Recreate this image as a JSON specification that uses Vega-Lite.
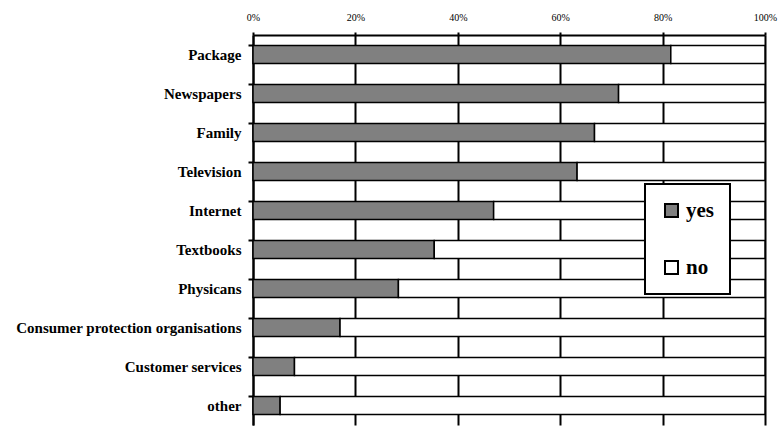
{
  "$schema": "https://vega.github.io/schema/vega-lite/v6.json",
  "width": 512,
  "height": 390,
  "autosize": "none",
  "padding": {"left": 253, "top": 35, "right": 15, "bottom": 1},
  "background": "white",
  "config": {
    "view": {"stroke": null},
    "font": "Liberation Serif",
    "legend": {"strokeWidth": 2}
  },
  "data": {
    "values": [
      {"source": "Package", "answer": "yes", "share": 0.816},
      {"source": "Package", "answer": "no", "share": 0.184},
      {"source": "Newspapers", "answer": "yes", "share": 0.714},
      {"source": "Newspapers", "answer": "no", "share": 0.286},
      {"source": "Family", "answer": "yes", "share": 0.667},
      {"source": "Family", "answer": "no", "share": 0.333},
      {"source": "Television", "answer": "yes", "share": 0.633},
      {"source": "Television", "answer": "no", "share": 0.367},
      {"source": "Internet", "answer": "yes", "share": 0.47},
      {"source": "Internet", "answer": "no", "share": 0.53},
      {"source": "Textbooks ", "answer": "yes", "share": 0.354},
      {"source": "Textbooks ", "answer": "no", "share": 0.646},
      {"source": "Physicans", "answer": "yes", "share": 0.284},
      {"source": "Physicans", "answer": "no", "share": 0.716},
      {"source": "Consumer protection organisations", "answer": "yes", "share": 0.17},
      {"source": "Consumer protection organisations", "answer": "no", "share": 0.83},
      {"source": "Customer services", "answer": "yes", "share": 0.081},
      {"source": "Customer services", "answer": "no", "share": 0.919},
      {"source": "other", "answer": "yes", "share": 0.053},
      {"source": "other", "answer": "no", "share": 0.947}
    ]
  },
  "mark": {"type": "bar", "stroke": "black", "strokeWidth": 1.5},
  "encoding": {
    "y": {
      "field": "source",
      "type": "nominal",
      "sort": null,
      "title": null,
      "scale": {"paddingInner": 0.54, "paddingOuter": 0.27},
      "axis": {
        "bandPosition": 0,
        "domainColor": "black",
        "domainWidth": 2,
        "tickColor": "black",
        "tickWidth": 2,
        "tickSize": 5,
        "labelFont": "Liberation Serif",
        "labelFontWeight": "bold",
        "labelFontSize": 15,
        "labelColor": "black",
        "labelPadding": 7,
        "labelLimit": 300,
        "grid": false
      }
    },
    "x": {
      "field": "share",
      "type": "quantitative",
      "stack": "zero",
      "title": null,
      "scale": {"domain": [0, 1], "nice": false},
      "axis": {
        "orient": "top",
        "values": [0, 0.2, 0.4, 0.6, 0.8, 1],
        "format": ".0%",
        "domainColor": "black",
        "domainWidth": 2,
        "tickColor": "black",
        "tickWidth": 2,
        "tickSize": 3,
        "grid": true,
        "gridColor": "black",
        "gridWidth": 2,
        "gridOpacity": 1,
        "labelFont": "Liberation Serif",
        "labelFontSize": 10,
        "labelColor": "black",
        "labelPadding": 10,
        "labelFlush": false
      }
    },
    "color": {
      "field": "answer",
      "type": "nominal",
      "scale": {"domain": ["yes", "no"], "range": ["#808080", "#ffffff"]},
      "legend": {
        "title": null,
        "orient": "none",
        "legendX": 392,
        "legendY": 149,
        "direction": "vertical",
        "fillColor": "white",
        "strokeColor": "black",
        "padding": 16,
        "rowPadding": 35,
        "symbolType": "square",
        "symbolSize": 169,
        "symbolStrokeColor": "black",
        "symbolStrokeWidth": 2,
        "symbolOpacity": 1,
        "labelFont": "Liberation Serif",
        "labelFontWeight": "bold",
        "labelFontSize": 21,
        "labelColor": "black",
        "labelOffset": 4
      }
    },
    "order": {"field": "answer", "sort": "descending"}
  }
}
